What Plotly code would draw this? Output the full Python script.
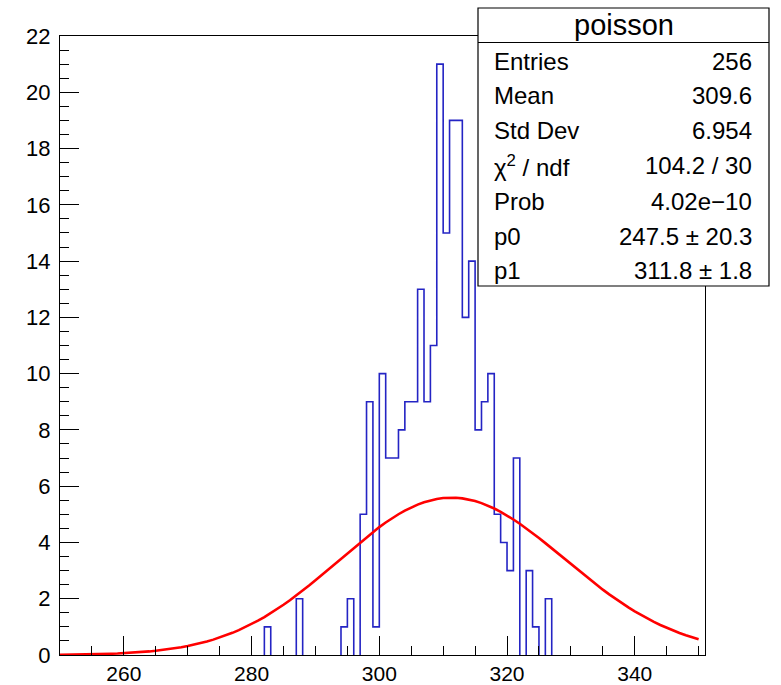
import math
import plotly.graph_objects as go

# ---------------- data ----------------
first_bin = 282          # lower edge of first listed bin (bin width 1)
bin_width = 1
counts = [1, 0, 0, 0, 0, 2, 0, 0, 0, 0, 0, 0, 1, 2, 0, 5, 9, 1, 10, 7, 7, 8, 9, 9,
          13, 9, 11, 21, 15, 19, 19, 12, 14, 8, 9, 10, 5, 4, 3, 7, 0, 3, 1, 0, 2]

x_range = [250, 351]
fit_range = [250, 350]
p0 = 247.5
p1 = 311.8

stats_title = "poisson"
stats_labels = ["Entries", "Mean", "Std Dev", "χ<sup>2</sup> / ndf", "Prob", "p0", "p1"]
stats_values = ["256", "309.6", "6.954", "104.2 / 30", "4.02e\u221210",
                "247.5 \u00b1 20.3", "311.8 \u00b1 1.8"]

x_ticks = [260, 280, 300, 320, 340]
y_ticks = list(range(0, 23, 2))

# ---------------- histogram outline ----------------
hx, hy = [], []
i = 0
n = len(counts)
while i < n:
    if counts[i] == 0:
        i += 1
        continue
    lo = first_bin + i * bin_width
    hx.append(lo); hy.append(0)
    while i < n and counts[i] != 0:
        lo = first_bin + i * bin_width
        hx += [lo, lo + bin_width]
        hy += [counts[i], counts[i]]
        i += 1
    hx.append(first_bin + i * bin_width); hy.append(0)
    hx.append(None); hy.append(None)

# ---------------- fit function p0*Poisson(x; p1) ----------------
npx = 100
fx = [fit_range[0] + (fit_range[1] - fit_range[0]) * k / npx for k in range(npx + 1)]
fy = [p0 * math.exp(x * math.log(p1) - math.lgamma(x + 1) - p1) for x in fx]

fig = go.Figure()
fig.add_trace(go.Scatter(x=hx, y=hy, mode="lines",
                         line=dict(color="#2424c4", width=1.6),
                         hoverinfo="skip", showlegend=False))
fig.add_trace(go.Scatter(x=fx, y=fy, mode="lines",
                         line=dict(color="#ff0000", width=2.6),
                         hoverinfo="skip", showlegend=False))

W, H = 781, 685
L, R, T, B = 60, 76, 36, 30
pw, ph = W - L - R, H - T - B


def px2x(px):
    return (px - L) / pw


def py2y(py):
    return (H - B - py) / ph


font_family = "Liberation Sans, Arial, Helvetica, sans-serif"

# stats box
bx0, bx1, by0, by1 = 478, 769, 8, 286
shapes = [
    dict(type="rect", xref="paper", yref="paper",
         x0=px2x(bx0), x1=px2x(bx1), y0=py2y(by1), y1=py2y(by0),
         fillcolor="white", line=dict(color="black", width=1.2), layer="above"),
    dict(type="line", xref="paper", yref="paper",
         x0=px2x(bx0), x1=px2x(bx1), y0=py2y(42.5), y1=py2y(42.5),
         line=dict(color="black", width=1.2), layer="above"),
]
annotations = [
    dict(xref="paper", yref="paper", x=px2x((bx0 + bx1) / 2), y=py2y(25),
         text=stats_title, showarrow=False, xanchor="center", yanchor="middle",
         font=dict(family=font_family, size=29, color="black"))
]
row_y = [61, 96, 131, 166, 201, 236, 270]
for lab, val, ry in zip(stats_labels, stats_values, row_y):
    annotations.append(dict(xref="paper", yref="paper", x=px2x(492), y=py2y(ry),
                            text=lab, showarrow=False, xanchor="left", yanchor="middle",
                            font=dict(family=font_family, size=24, color="black")))
    annotations.append(dict(xref="paper", yref="paper", x=px2x(754), y=py2y(ry),
                            text=val, showarrow=False, xanchor="right", yanchor="middle",
                            font=dict(family=font_family, size=24, color="black")))

fig.update_layout(
    width=W, height=H,
    margin=dict(l=L, r=R, t=T, b=B, pad=0, autoexpand=False),
    paper_bgcolor="white", plot_bgcolor="white",
    shapes=shapes, annotations=annotations,
    xaxis=dict(range=x_range, tickvals=x_ticks, ticks="inside", ticklen=19,
               tickcolor="black", tickwidth=1, showline=True, linecolor="black",
               linewidth=1, mirror=True, showgrid=False, zeroline=False,
               automargin=False,
               tickfont=dict(family=font_family, size=21, color="black"),
               minor=dict(dtick=5, ticks="inside", ticklen=9, tickcolor="black",
                          tickwidth=1, showgrid=False),
               fixedrange=True),
    yaxis=dict(range=[0, 22], tickvals=y_ticks, ticks="inside", ticklen=19,
               tickcolor="black", tickwidth=1, showline=True, linecolor="black",
               linewidth=1, mirror=True, showgrid=False, zeroline=False,
               automargin=False, ticklabelstandoff=4,
               tickfont=dict(family=font_family, size=22, color="black"),
               minor=dict(dtick=0.5, ticks="inside", ticklen=9, tickcolor="black",
                          tickwidth=1, showgrid=False),
               fixedrange=True),
)

fig.write_html("out.html")
